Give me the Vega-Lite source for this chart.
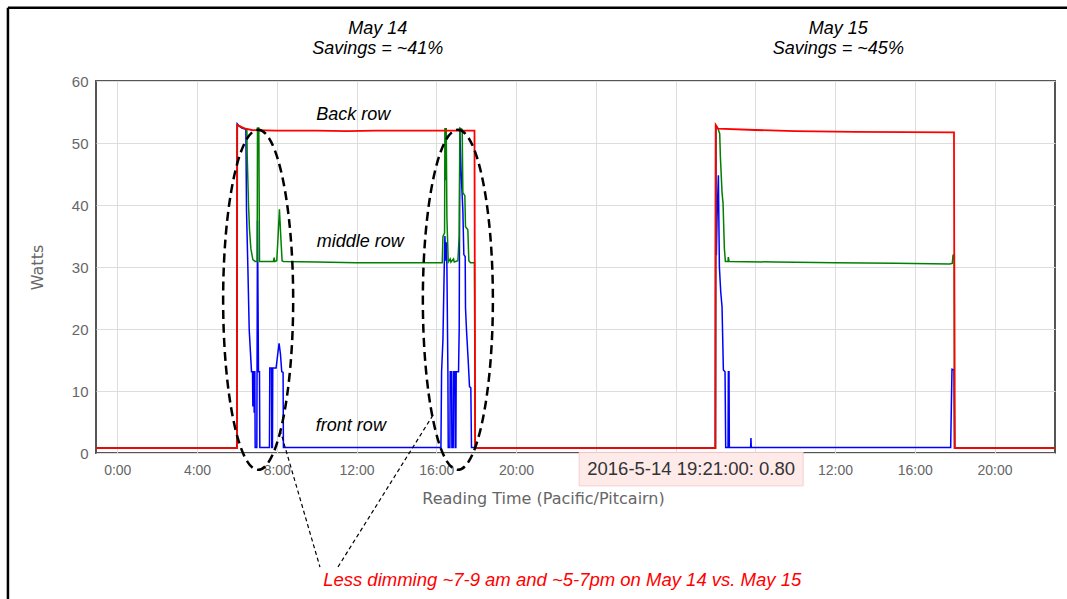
{
  "$schema": "https://vega.github.io/schema/vega-lite/v6.json",
  "width": 959,
  "height": 372,
  "autosize": "none",
  "padding": {"left": 96, "top": 81, "right": 12, "bottom": 146},
  "background": "white",
  "config": {
    "view": {"stroke": "#555555", "strokeWidth": 2},
    "font": "Liberation Sans"
  },
  "encoding": {
    "x": {
      "field": "t",
      "type": "temporal",
      "scale": {"domain": [
        {"year": 2016, "month": 5, "date": 13, "hours": 22, "minutes": 56},
        {"year": 2016, "month": 5, "date": 15, "hours": 23, "minutes": 2}
      ]},
      "axis": {
        "title": "Reading Time (Pacific/Pitcairn)",
        "format": "%-H:%M",
        "values": [
          {"year": 2016, "month": 5, "date": 14, "hours": 0},
          {"year": 2016, "month": 5, "date": 14, "hours": 4},
          {"year": 2016, "month": 5, "date": 14, "hours": 8},
          {"year": 2016, "month": 5, "date": 14, "hours": 12},
          {"year": 2016, "month": 5, "date": 14, "hours": 16},
          {"year": 2016, "month": 5, "date": 14, "hours": 20},
          {"year": 2016, "month": 5, "date": 15, "hours": 0},
          {"year": 2016, "month": 5, "date": 15, "hours": 4},
          {"year": 2016, "month": 5, "date": 15, "hours": 8},
          {"year": 2016, "month": 5, "date": 15, "hours": 12},
          {"year": 2016, "month": 5, "date": 15, "hours": 16},
          {"year": 2016, "month": 5, "date": 15, "hours": 20}
        ],
        "labelExpr": "(datum.value >= datetime(2016, 4, 14, 23, 0) && datum.value <= datetime(2016, 4, 15, 9, 0)) ? '' : datum.label",
        "labelFontSize": 14,
        "labelColor": "#666666",
        "labelPadding": 10,
        "labelFlush": false,
        "ticks": false,
        "domain": false,
        "grid": true,
        "gridColor": "#dddddd",
        "titleFont": "DejaVu Sans",
        "titleFontSize": 16,
        "titleFontWeight": "normal",
        "titleColor": "#666666",
        "titleX": 447,
        "titleY": 50,
        "titleAlign": "center",
        "titleBaseline": "alphabetic"
      }
    },
    "y": {
      "field": "w",
      "type": "quantitative",
      "scale": {"domain": [0, 60], "nice": false},
      "axis": {
        "title": "Watts",
        "values": [0, 10, 20, 30, 40, 50, 60],
        "labelFontSize": 15,
        "labelColor": "#666666",
        "labelPadding": 8,
        "ticks": false,
        "domain": false,
        "grid": true,
        "gridColor": "#dddddd",
        "titleFont": "DejaVu Sans",
        "titleFontSize": 16,
        "titleFontWeight": "normal",
        "titleColor": "#666666",
        "titlePadding": 26
      }
    }
  },
  "layer": [
    {
      "data": {"values": [
      {"t": "2016-05-13T22:56:00", "w": 0.8},
      {"t": "2016-05-14T06:00:00", "w": 0.8},
      {"t": "2016-05-14T06:01:00", "w": 53.1},
      {"t": "2016-05-14T06:06:00", "w": 52.8},
      {"t": "2016-05-14T06:15:00", "w": 52.4},
      {"t": "2016-05-14T06:27:00", "w": 52.2},
      {"t": "2016-05-14T06:29:00", "w": 39},
      {"t": "2016-05-14T06:33:00", "w": 30},
      {"t": "2016-05-14T06:37:00", "w": 20},
      {"t": "2016-05-14T06:40:00", "w": 17},
      {"t": "2016-05-14T06:44:00", "w": 13.1},
      {"t": "2016-05-14T06:47:00", "w": 13.1},
      {"t": "2016-05-14T06:48:00", "w": 7.5},
      {"t": "2016-05-14T06:49:00", "w": 13.1},
      {"t": "2016-05-14T06:51:00", "w": 13.1},
      {"t": "2016-05-14T06:52:00", "w": 6.5},
      {"t": "2016-05-14T06:53:00", "w": 13.1},
      {"t": "2016-05-14T06:54:00", "w": 13.1},
      {"t": "2016-05-14T06:55:00", "w": 0.9},
      {"t": "2016-05-14T07:00:00", "w": 0.9},
      {"t": "2016-05-14T07:02:00", "w": 37.5},
      {"t": "2016-05-14T07:05:00", "w": 13.1},
      {"t": "2016-05-14T07:08:00", "w": 13.1},
      {"t": "2016-05-14T07:09:00", "w": 0.9},
      {"t": "2016-05-14T07:38:00", "w": 0.9},
      {"t": "2016-05-14T07:39:00", "w": 13.7},
      {"t": "2016-05-14T07:44:00", "w": 13.7},
      {"t": "2016-05-14T07:45:00", "w": 0.9},
      {"t": "2016-05-14T07:47:00", "w": 0.9},
      {"t": "2016-05-14T07:48:00", "w": 13.7},
      {"t": "2016-05-14T07:58:00", "w": 13.7},
      {"t": "2016-05-14T08:03:00", "w": 16},
      {"t": "2016-05-14T08:07:00", "w": 17.7},
      {"t": "2016-05-14T08:11:00", "w": 16},
      {"t": "2016-05-14T08:15:00", "w": 13.1},
      {"t": "2016-05-14T08:19:00", "w": 13},
      {"t": "2016-05-14T08:20:00", "w": 0.9},
      {"t": "2016-05-14T16:14:00", "w": 0.9},
      {"t": "2016-05-14T16:16:00", "w": 13.1},
      {"t": "2016-05-14T16:20:00", "w": 18.2},
      {"t": "2016-05-14T16:24:00", "w": 30},
      {"t": "2016-05-14T16:26:00", "w": 35.0},
      {"t": "2016-05-14T16:28:00", "w": 31},
      {"t": "2016-05-14T16:30:00", "w": 34},
      {"t": "2016-05-14T16:32:00", "w": 30},
      {"t": "2016-05-14T16:35:00", "w": 13.1},
      {"t": "2016-05-14T16:36:00", "w": 0.9},
      {"t": "2016-05-14T16:41:00", "w": 0.9},
      {"t": "2016-05-14T16:42:00", "w": 13.1},
      {"t": "2016-05-14T16:46:00", "w": 13.1},
      {"t": "2016-05-14T16:47:00", "w": 0.9},
      {"t": "2016-05-14T16:51:00", "w": 0.9},
      {"t": "2016-05-14T16:52:00", "w": 13.1},
      {"t": "2016-05-14T16:56:00", "w": 13.1},
      {"t": "2016-05-14T16:57:00", "w": 0.9},
      {"t": "2016-05-14T16:59:00", "w": 0.9},
      {"t": "2016-05-14T17:00:00", "w": 13.1},
      {"t": "2016-05-14T17:07:00", "w": 13.1},
      {"t": "2016-05-14T17:09:00", "w": 20},
      {"t": "2016-05-14T17:11:00", "w": 52.0},
      {"t": "2016-05-14T17:15:00", "w": 45},
      {"t": "2016-05-14T17:20:00", "w": 39.2},
      {"t": "2016-05-14T17:23:00", "w": 32},
      {"t": "2016-05-14T17:27:00", "w": 31.7},
      {"t": "2016-05-14T17:28:00", "w": 23.4},
      {"t": "2016-05-14T17:31:00", "w": 19.8},
      {"t": "2016-05-14T17:36:00", "w": 15.0},
      {"t": "2016-05-14T17:40:00", "w": 10.7},
      {"t": "2016-05-14T17:44:00", "w": 10.5},
      {"t": "2016-05-14T17:46:00", "w": 0.9},
      {"t": "2016-05-14T17:55:00", "w": 0.9},
      {"t": "2016-05-14T17:57:00", "w": 0.8},
      {"t": "2016-05-15T06:00:00", "w": 0.8},
      {"t": "2016-05-15T06:01:00", "w": 52.9},
      {"t": "2016-05-15T06:03:00", "w": 31.9},
      {"t": "2016-05-15T06:05:00", "w": 38},
      {"t": "2016-05-15T06:09:00", "w": 44.8},
      {"t": "2016-05-15T06:12:00", "w": 30.0},
      {"t": "2016-05-15T06:16:00", "w": 26},
      {"t": "2016-05-15T06:20:00", "w": 23.6},
      {"t": "2016-05-15T06:24:00", "w": 13.4},
      {"t": "2016-05-15T06:29:00", "w": 13.1},
      {"t": "2016-05-15T06:31:00", "w": 0.9},
      {"t": "2016-05-15T06:38:00", "w": 0.9},
      {"t": "2016-05-15T06:39:00", "w": 13.1},
      {"t": "2016-05-15T06:41:00", "w": 13.1},
      {"t": "2016-05-15T06:42:00", "w": 0.9},
      {"t": "2016-05-15T07:46:00", "w": 0.9},
      {"t": "2016-05-15T07:47:00", "w": 2.4},
      {"t": "2016-05-15T07:48:00", "w": 0.9},
      {"t": "2016-05-15T17:48:00", "w": 0.9},
      {"t": "2016-05-15T17:52:00", "w": 13.5},
      {"t": "2016-05-15T17:58:00", "w": 13.4},
      {"t": "2016-05-15T18:00:00", "w": 0.8},
      {"t": "2016-05-15T23:02:00", "w": 0.8}
      ]},
      "mark": {"type": "line", "color": "#0000ff", "strokeWidth": 1.5}
    },
    {
      "data": {"values": [
      {"t": "2016-05-13T22:56:00", "w": 0.8},
      {"t": "2016-05-14T06:00:00", "w": 0.8},
      {"t": "2016-05-14T06:01:00", "w": 52.9},
      {"t": "2016-05-14T06:10:00", "w": 52.6},
      {"t": "2016-05-14T06:30:00", "w": 52.2},
      {"t": "2016-05-14T06:31:00", "w": 48},
      {"t": "2016-05-14T06:35:00", "w": 40},
      {"t": "2016-05-14T06:38:00", "w": 36},
      {"t": "2016-05-14T06:42:00", "w": 33},
      {"t": "2016-05-14T06:48:00", "w": 31.2},
      {"t": "2016-05-14T06:55:00", "w": 30.9},
      {"t": "2016-05-14T07:01:00", "w": 30.9},
      {"t": "2016-05-14T07:02:00", "w": 52.4},
      {"t": "2016-05-14T07:06:00", "w": 52.4},
      {"t": "2016-05-14T07:08:00", "w": 30.9},
      {"t": "2016-05-14T07:50:00", "w": 30.9},
      {"t": "2016-05-14T07:52:00", "w": 31.5},
      {"t": "2016-05-14T07:54:00", "w": 30.9},
      {"t": "2016-05-14T08:00:00", "w": 31.0},
      {"t": "2016-05-14T08:04:00", "w": 35},
      {"t": "2016-05-14T08:08:00", "w": 39.3},
      {"t": "2016-05-14T08:12:00", "w": 35},
      {"t": "2016-05-14T08:16:00", "w": 31.0},
      {"t": "2016-05-14T08:20:00", "w": 30.9},
      {"t": "2016-05-14T10:00:00", "w": 30.8},
      {"t": "2016-05-14T12:00:00", "w": 30.7},
      {"t": "2016-05-14T14:00:00", "w": 30.7},
      {"t": "2016-05-14T16:18:00", "w": 30.7},
      {"t": "2016-05-14T16:20:00", "w": 34.9},
      {"t": "2016-05-14T16:25:00", "w": 35.5},
      {"t": "2016-05-14T16:26:00", "w": 52.4},
      {"t": "2016-05-14T16:28:00", "w": 44},
      {"t": "2016-05-14T16:30:00", "w": 52.4},
      {"t": "2016-05-14T16:32:00", "w": 38},
      {"t": "2016-05-14T16:36:00", "w": 30.8},
      {"t": "2016-05-14T16:42:00", "w": 31.3},
      {"t": "2016-05-14T16:44:00", "w": 30.8},
      {"t": "2016-05-14T16:52:00", "w": 31.3},
      {"t": "2016-05-14T16:54:00", "w": 30.8},
      {"t": "2016-05-14T17:05:00", "w": 31.0},
      {"t": "2016-05-14T17:09:00", "w": 35},
      {"t": "2016-05-14T17:11:00", "w": 52.4},
      {"t": "2016-05-14T17:18:00", "w": 52.2},
      {"t": "2016-05-14T17:20:00", "w": 42},
      {"t": "2016-05-14T17:26:00", "w": 41.5},
      {"t": "2016-05-14T17:28:00", "w": 36.5},
      {"t": "2016-05-14T17:35:00", "w": 36.0},
      {"t": "2016-05-14T17:38:00", "w": 31},
      {"t": "2016-05-14T17:43:00", "w": 30.7},
      {"t": "2016-05-14T17:55:00", "w": 30.7},
      {"t": "2016-05-14T17:57:00", "w": 0.8},
      {"t": "2016-05-15T06:00:00", "w": 0.8},
      {"t": "2016-05-15T06:01:00", "w": 52.9},
      {"t": "2016-05-15T06:08:00", "w": 52.3},
      {"t": "2016-05-15T06:13:00", "w": 51.5},
      {"t": "2016-05-15T06:15:00", "w": 47.8},
      {"t": "2016-05-15T06:20:00", "w": 42},
      {"t": "2016-05-15T06:23:00", "w": 40.3},
      {"t": "2016-05-15T06:27:00", "w": 33},
      {"t": "2016-05-15T06:30:00", "w": 30.9},
      {"t": "2016-05-15T06:38:00", "w": 30.9},
      {"t": "2016-05-15T06:39:00", "w": 31.6},
      {"t": "2016-05-15T06:41:00", "w": 30.9},
      {"t": "2016-05-15T09:00:00", "w": 30.8},
      {"t": "2016-05-15T12:00:00", "w": 30.7},
      {"t": "2016-05-15T15:00:00", "w": 30.6},
      {"t": "2016-05-15T17:45:00", "w": 30.5},
      {"t": "2016-05-15T17:53:00", "w": 30.6},
      {"t": "2016-05-15T17:55:00", "w": 31.9},
      {"t": "2016-05-15T17:59:00", "w": 32.0},
      {"t": "2016-05-15T18:00:00", "w": 0.8},
      {"t": "2016-05-15T23:02:00", "w": 0.8}
      ]},
      "mark": {"type": "line", "color": "#008000", "strokeWidth": 1.5}
    },
    {
      "data": {"values": [
      {"t": "2016-05-13T22:56:00", "w": 0.8},
      {"t": "2016-05-14T06:00:00", "w": 0.8},
      {"t": "2016-05-14T06:01:00", "w": 52.9},
      {"t": "2016-05-14T06:10:00", "w": 52.7},
      {"t": "2016-05-14T06:25:00", "w": 52.3},
      {"t": "2016-05-14T06:45:00", "w": 52.1},
      {"t": "2016-05-14T08:00:00", "w": 52.0},
      {"t": "2016-05-14T10:00:00", "w": 52.0},
      {"t": "2016-05-14T11:30:00", "w": 51.9},
      {"t": "2016-05-14T13:00:00", "w": 52.0},
      {"t": "2016-05-14T15:00:00", "w": 52.0},
      {"t": "2016-05-14T17:55:00", "w": 52.0},
      {"t": "2016-05-14T17:57:00", "w": 0.8},
      {"t": "2016-05-15T06:00:00", "w": 0.8},
      {"t": "2016-05-15T06:01:00", "w": 52.9},
      {"t": "2016-05-15T06:08:00", "w": 52.3},
      {"t": "2016-05-15T08:00:00", "w": 52.1},
      {"t": "2016-05-15T10:00:00", "w": 51.9},
      {"t": "2016-05-15T13:00:00", "w": 51.8},
      {"t": "2016-05-15T17:58:00", "w": 51.7},
      {"t": "2016-05-15T18:00:00", "w": 0.8},
      {"t": "2016-05-15T23:02:00", "w": 0.8}
      ]},
      "mark": {"type": "line", "color": "#ff0000", "strokeWidth": 1.8}
    },
    {
      "data": {"values": [
        {"t": "2016-05-14T07:04:00", "w": 24.7},
        {"t": "2016-05-14T17:05:00", "w": 24.7}
      ]},
      "mark": {
        "type": "point",
        "shape": "M0,-1 A0.206,1 0 1,1 0,1 A0.206,1 0 1,1 0,-1 Z",
        "size": 115600,
        "filled": false,
        "stroke": "black",
        "strokeWidth": 2.5,
        "strokeDash": [9, 5],
        "opacity": 1,
        "clip": false
      }
    },
    {
      "data": {"values": [
        {"t": "2016-05-14T08:10:00", "w": 3.7, "t2": "2016-05-14T10:10:00", "w2": -18.4},
        {"t": "2016-05-14T15:50:00", "w": 6.1, "t2": "2016-05-14T11:04:00", "w2": -18.4}
      ]},
      "mark": {"type": "rule", "color": "black", "strokeWidth": 1.2, "strokeDash": [4, 3], "clip": false},
      "encoding": {
        "x2": {"field": "t2"},
        "y2": {"field": "w2"}
      }
    },
    {
      "data": {"values": [
        {"t": "2016-05-13T18:31:00", "w": 71.8, "t2": "2016-05-16T03:00:00", "w2": 71.8},
        {"t": "2016-05-13T18:31:00", "w": 71.8, "t2": "2016-05-13T18:31:00", "w2": -40}
      ]},
      "mark": {"type": "rule", "color": "black", "strokeWidth": 2.5, "clip": false},
      "encoding": {
        "x2": {"field": "t2"},
        "y2": {"field": "w2"}
      }
    },
    {
      "data": {"values": [
        {"t": "2016-05-14T13:04:00", "w": 68.4, "label": "May 14"},
        {"t": "2016-05-14T13:04:00", "w": 65.2, "label": "Savings = ~41%"},
        {"t": "2016-05-15T12:10:00", "w": 68.4, "label": "May 15"},
        {"t": "2016-05-15T12:10:00", "w": 65.2, "label": "Savings = ~45%"},
        {"t": "2016-05-14T11:50:00", "w": 54.5, "label": "Back row"},
        {"t": "2016-05-14T12:11:00", "w": 34.0, "label": "middle row"},
        {"t": "2016-05-14T11:43:00", "w": 4.4, "label": "front row"}
      ]},
      "mark": {"type": "text", "fontSize": 18, "fontStyle": "italic", "color": "black", "align": "center", "baseline": "middle", "clip": false},
      "encoding": {"text": {"field": "label", "type": "nominal"}}
    },
    {
      "data": {"values": [
        {"t": "2016-05-14T22:19:00", "w": -20.5, "label": "Less dimming ~7-9 am and ~5-7pm on May 14 vs. May 15"}
      ]},
      "mark": {"type": "text", "fontSize": 18.5, "fontStyle": "italic", "color": "#ff0000", "align": "center", "baseline": "middle", "clip": false},
      "encoding": {"text": {"field": "label", "type": "nominal"}}
    },
    {
      "data": {"values": [
        {"t": "2016-05-14T23:10:00", "w": 0.1, "t2": "2016-05-15T10:24:00", "w2": -5.3}
      ]},
      "mark": {"type": "rect", "fill": "#fde9e8", "fillOpacity": 0.95, "stroke": "#f4cfcf", "strokeWidth": 1, "clip": false},
      "encoding": {
        "x2": {"field": "t2"},
        "y2": {"field": "w2"}
      }
    },
    {
      "data": {"values": [
        {"t": "2016-05-15T04:47:00", "w": -2.6, "label": "2016-5-14 19:21:00: 0.80"}
      ]},
      "mark": {"type": "text", "fontSize": 18.5, "color": "#333333", "align": "center", "baseline": "middle", "clip": false},
      "encoding": {"text": {"field": "label", "type": "nominal"}}
    }
  ]
}
